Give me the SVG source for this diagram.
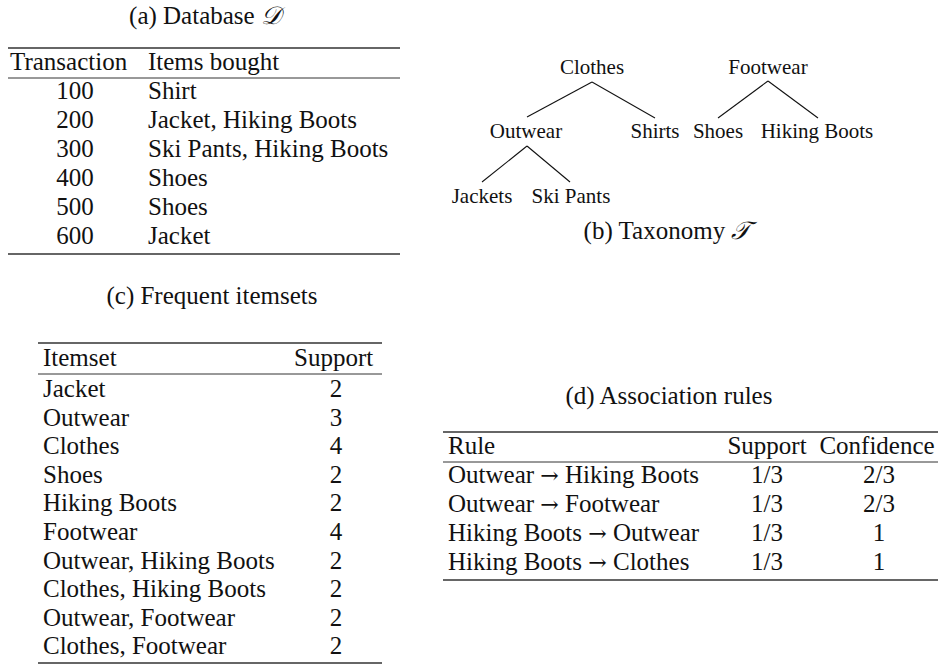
<svg xmlns="http://www.w3.org/2000/svg" width="943" height="668" viewBox="0 0 943 668" font-family="'Liberation Serif', 'Times New Roman', Tinos, 'DejaVu Serif', serif" font-size="25">
<style>
text{fill:#111}
.m{text-anchor:middle}
.n{text-anchor:middle;font-size:21px}
.heavy{stroke:#333;stroke-width:1.6}
.light{stroke:#333;stroke-width:1}
.edge{stroke:#111;stroke-width:1.1;fill:none}
.cal{font-style:italic}
.ar{font-family:"DejaVu Serif",serif;font-size:22px}
</style>
<rect width="943" height="668" fill="#fff"/>

<g id="table-a">
<text class="m" x="205" y="24">(a) Database <tspan class="cal" font-family="'DejaVu Serif', serif">𝒟</tspan></text>
<line class="heavy" x1="8" y1="48" x2="400" y2="48"/>
<text x="10" y="70">Transaction</text>
<text x="148" y="70">Items bought</text>
<line class="light" x1="8" y1="78" x2="400" y2="78"/>
<text class="m" x="75" y="99">100</text><text x="148" y="99">Shirt</text>
<text class="m" x="75" y="128">200</text><text x="148" y="128">Jacket, Hiking Boots</text>
<text class="m" x="75" y="157">300</text><text x="148" y="157">Ski Pants, Hiking Boots</text>
<text class="m" x="75" y="186">400</text><text x="148" y="186">Shoes</text>
<text class="m" x="75" y="215">500</text><text x="148" y="215">Shoes</text>
<text class="m" x="75" y="244">600</text><text x="148" y="244">Jacket</text>
<line class="heavy" x1="8" y1="254" x2="400" y2="254"/>
</g>

<g id="taxonomy">
<g id="connectors">
<line class="edge" x1="592" y1="82" x2="527" y2="117"/>
<line class="edge" x1="592" y1="82" x2="655" y2="118"/>
<line class="edge" x1="768" y1="81" x2="718" y2="118"/>
<line class="edge" x1="768" y1="81" x2="818" y2="118"/>
<line class="edge" x1="527" y1="146" x2="482" y2="182"/>
<line class="edge" x1="527" y1="146" x2="570" y2="182"/>
</g>
<g id="n-clothes"><text class="n" x="592" y="74">Clothes</text></g>
<g id="n-footwear"><text class="n" x="768" y="74">Footwear</text></g>
<g id="n-outwear"><text class="n" x="526" y="138">Outwear</text></g>
<g id="n-shirts"><text class="n" x="655" y="138">Shirts</text></g>
<g id="n-shoes"><text class="n" x="718" y="138">Shoes</text></g>
<g id="n-hiking"><text class="n" x="817" y="138">Hiking Boots</text></g>
<g id="n-jackets"><text class="n" x="482" y="203">Jackets</text></g>
<g id="n-skipants"><text class="n" x="571" y="203">Ski Pants</text></g>
<text class="m" x="667" y="239">(b) Taxonomy <tspan class="cal" font-family="'DejaVu Serif', serif">𝒯</tspan></text>
</g>

<g id="table-c">
<text class="m" x="212" y="304">(c) Frequent itemsets</text>
<line class="heavy" x1="38" y1="343" x2="382" y2="343"/>
<text x="43" y="366">Itemset</text>
<text x="294" y="366">Support</text>
<line class="light" x1="38" y1="374" x2="382" y2="374"/>
<text x="43" y="397">Jacket</text><text class="m" x="336" y="397">2</text>
<text x="43" y="425.6">Outwear</text><text class="m" x="336" y="425.6">3</text>
<text x="43" y="454.2">Clothes</text><text class="m" x="336" y="454.2">4</text>
<text x="43" y="482.8">Shoes</text><text class="m" x="336" y="482.8">2</text>
<text x="43" y="511.4">Hiking Boots</text><text class="m" x="336" y="511.4">2</text>
<text x="43" y="540">Footwear</text><text class="m" x="336" y="540">4</text>
<text x="43" y="568.6">Outwear, Hiking Boots</text><text class="m" x="336" y="568.6">2</text>
<text x="43" y="597.2">Clothes, Hiking Boots</text><text class="m" x="336" y="597.2">2</text>
<text x="43" y="625.8">Outwear, Footwear</text><text class="m" x="336" y="625.8">2</text>
<text x="43" y="654.4">Clothes, Footwear</text><text class="m" x="336" y="654.4">2</text>
<line class="heavy" x1="38" y1="663" x2="382" y2="663"/>
</g>

<g id="table-d">
<text class="m" x="669" y="404">(d) Association rules</text>
<line class="heavy" x1="443" y1="432" x2="938" y2="432"/>
<text x="448" y="454">Rule</text>
<text class="m" x="767" y="454">Support</text>
<text class="m" x="877" y="454">Confidence</text>
<line class="light" x1="443" y1="462" x2="938" y2="462"/>
<text x="448" y="483">Outwear <tspan class="ar">→</tspan> Hiking Boots</text><text class="m" x="767" y="483">1/3</text><text class="m" x="879" y="483">2/3</text>
<text x="448" y="512">Outwear <tspan class="ar">→</tspan> Footwear</text><text class="m" x="767" y="512">1/3</text><text class="m" x="879" y="512">2/3</text>
<text x="448" y="541">Hiking Boots <tspan class="ar">→</tspan> Outwear</text><text class="m" x="767" y="541">1/3</text><text class="m" x="879" y="541">1</text>
<text x="448" y="570">Hiking Boots <tspan class="ar">→</tspan> Clothes</text><text class="m" x="767" y="570">1/3</text><text class="m" x="879" y="570">1</text>
<line class="heavy" x1="443" y1="580" x2="938" y2="580"/>
</g>
</svg>
